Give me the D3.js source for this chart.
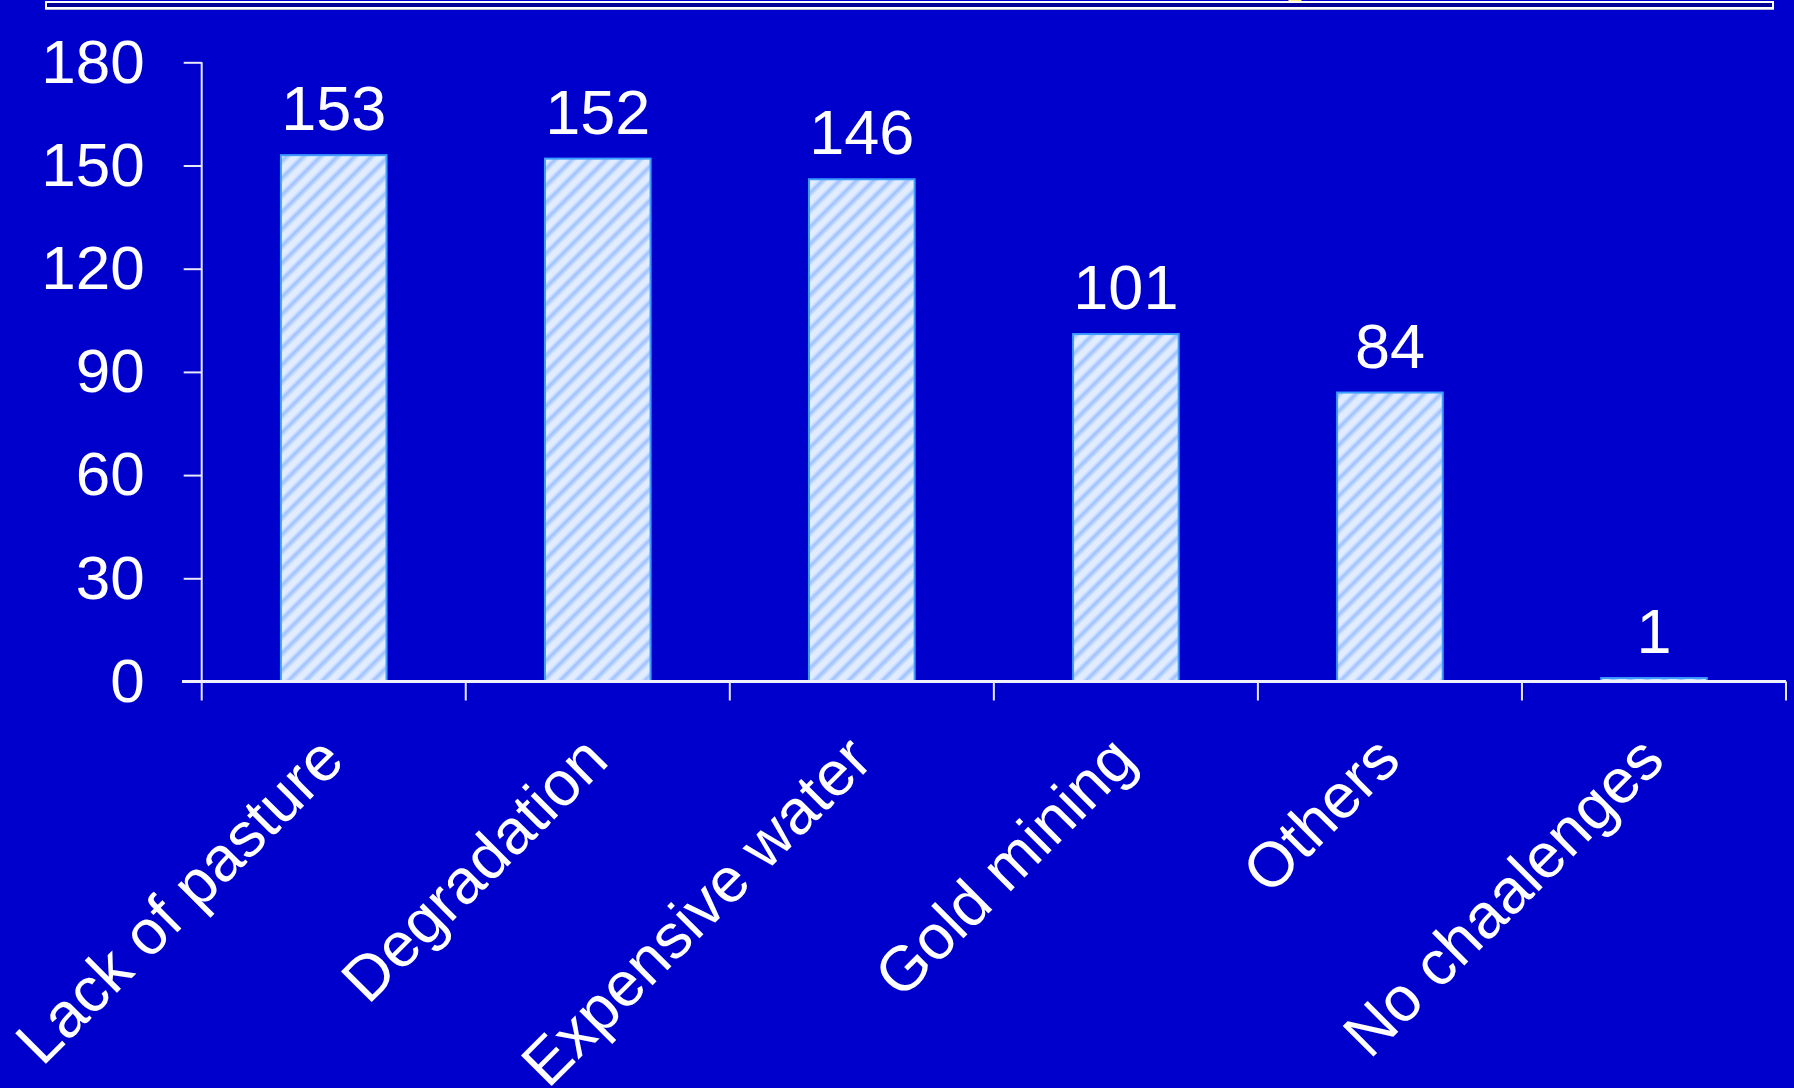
<!DOCTYPE html>
<html><head><meta charset="utf-8">
<script src="https://cdn.jsdelivr.net/npm/d3@7"></script>
<style>
html,body{margin:0;padding:0;background:#0000CC;}
svg{display:block;}
text{font-family:"Liberation Sans",Arial,sans-serif;fill:#fff;}
</style></head><body>
<script>
const categories = ["Lack of pasture","Degradation","Expensive water","Gold mining","Others","No chaalenges"];
const values = [153,152,146,101,84,1];
const yTicks = [0,30,60,90,120,150,180];

const W = 1794, H = 1088;
const svg = d3.select("body").append("svg").attr("width",W).attr("height",H);
svg.append("rect").attr("width",W).attr("height",H).attr("fill","#0000CC");

const defs = svg.append("defs");
const P = 12;
const pat = defs.append("pattern").attr("id","hatch").attr("patternUnits","userSpaceOnUse")
  .attr("width",P).attr("height",P).attr("patternTransform","rotate(45)");
pat.append("rect").attr("width",P).attr("height",P).attr("fill","#E2ECFF");
pat.append("rect").attr("x",0).attr("width",2.8).attr("height",P).attr("fill","#A3C5FF");
pat.append("rect").attr("x",2.8).attr("width",1.6).attr("height",P).attr("fill","#C2D8FF");
pat.append("rect").attr("x",P-1.6).attr("width",1.6).attr("height",P).attr("fill","#C2D8FF");

// top frame
svg.append("circle").attr("cx",1295).attr("cy",-2).attr("r",7).attr("fill","#FFF27A");
svg.append("rect").attr("x",46).attr("y",2).attr("width",1727).attr("height",6)
  .attr("fill","#000099").attr("stroke","#FFFFFF").attr("stroke-width",2);
svg.append("line").attr("x1",45).attr("x2",1774).attr("y1",9.5).attr("y2",9.5)
  .attr("stroke","#B8B8D8").attr("stroke-width",1);

const pLeft = 201.7, pRight = 1786, pTop = 62.3, pBottom = 681.5;
const x = d3.scaleBand().domain(categories).range([pLeft,pRight]).paddingInner(0.6).paddingOuter(0.3);
const y = d3.scaleLinear().domain([0,180]).range([pBottom,pTop]);

const g = svg.append("g");

// bars
g.selectAll("rect.bar").data(values).join("rect").attr("class","bar")
  .attr("x",(d,i)=>x(categories[i]))
  .attr("width",x.bandwidth())
  .attr("y",d=>y(d))
  .attr("height",d=>Math.max(0,pBottom-y(d)))
  .attr("fill","url(#hatch)")
  .attr("stroke","#3C9CFF").attr("stroke-width",2);

// value labels
g.selectAll("text.val").data(values).join("text").attr("class","val")
  .attr("x",(d,i)=>x(categories[i])+x.bandwidth()/2)
  .attr("y",d=>y(d)-25)
  .attr("text-anchor","middle")
  .attr("font-size",63)
  .text(d=>d);

// y axis
const yAxis = d3.axisLeft(y).tickValues(yTicks).tickSize(18).tickPadding(39);
const ya = svg.append("g").attr("transform",`translate(${pLeft},0)`).call(yAxis);
ya.selectAll("path,line").attr("stroke","#E8E8F8").attr("stroke-width",2);
ya.select("path.domain").attr("d",`M0,${pTop}V${pBottom}`);
ya.selectAll("text").attr("font-size",62).attr("fill","#fff")
  .style("font-family",'"Liberation Sans",Arial,sans-serif');

// x axis (ticks at band boundaries)
const bounds = d3.range(categories.length+1).map(i=>pLeft+i*(pRight-pLeft)/categories.length);
const xa = svg.append("g");
xa.append("line").attr("x1",182).attr("x2",pRight).attr("y1",pBottom).attr("y2",pBottom)
  .attr("stroke","#F0F0FF").attr("stroke-width",3);
xa.selectAll("line.tk").data(bounds).join("line").attr("class","tk")
  .attr("x1",d=>d).attr("x2",d=>d).attr("y1",pBottom).attr("y2",pBottom+19)
  .attr("stroke","#E8E8F8").attr("stroke-width",2);

// category labels
xa.selectAll("text.cat").data(categories).join("text").attr("class","cat")
  .attr("transform",d=>`translate(${x(d)+x.bandwidth()/2+13},763) rotate(-45)`)
  .attr("text-anchor","end")
  .attr("font-size",63)
  .text(d=>d);
</script>
</body></html>
